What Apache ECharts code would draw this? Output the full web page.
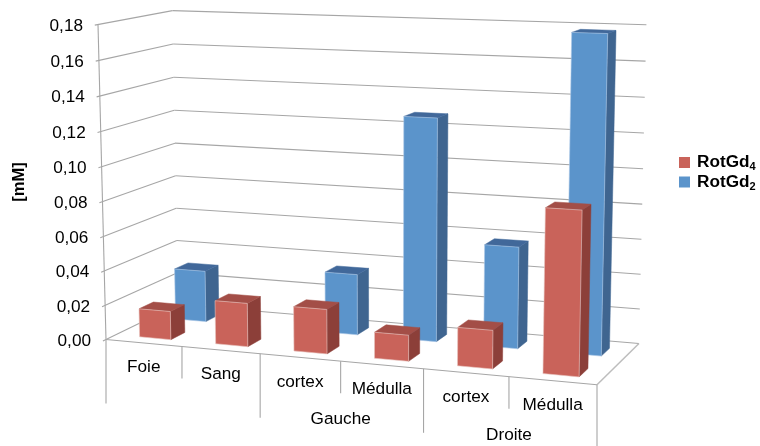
<!DOCTYPE html>
<html>
<head>
<meta charset="utf-8">
<style>html,body{margin:0;padding:0;background:#fff}#c{width:760px;height:446px}</style>
<script src="https://cdn.jsdelivr.net/npm/echarts@6/dist/echarts.min.js"></script>
</head>
<body>
<div id="c"></div>
<script>
const categories = ['Foie', 'Sang', 'cortex', 'Médulla', 'cortex', 'Médulla'];
const groupNames = ['', 'Gauche', 'Droite'];
const groupSpans = [2, 2, 2];
const rotGd4 = [0.0165, 0.025, 0.0253, 0.0147, 0.0214, 0.09];
const rotGd2 = [0.0304, 0.0, 0.0354, 0.128, 0.058, 0.178];
const tickValues = [0, 0.02, 0.04, 0.06, 0.08, 0.1, 0.12, 0.14, 0.16, 0.18];
const tickLabels = ['0,00', '0,02', '0,04', '0,06', '0,08', '0,10', '0,12', '0,14', '0,16', '0,18'];

// perspective box: u across, d into the depth, h up (all 0..1)
const O = [106, 339.5], VX = [-5200, -150], VZ = [1166, -175], VY = [384, 11290];
const A = -0.0847, B = 0.0729, G = -0.02796;
function project(u, d, h) {
  const w = 1 + A * u + B * d + G * h;
  return [
    (O[0] + A * u * VX[0] + B * d * VZ[0] + G * h * VY[0]) / w,
    (O[1] + A * u * VX[1] + B * d * VZ[1] + G * h * VY[1]) / w
  ];
}
function unit(api, params, cat, val) {
  const p = api.coord([cat, val]), cs = params.coordSys;
  return { u: (p[0] - cs.x) / cs.width, h: (cs.y + cs.height - p[1]) / cs.height };
}
const FONT = '"Liberation Sans", Arial, sans-serif';
const GRID = '#a6a6a6';
function line(a, b, stroke, width) {
  return { type: 'line', shape: { x1: a[0], y1: a[1], x2: b[0], y2: b[1] }, style: { stroke, lineWidth: width || 1.1 } };
}
function text(str, x, y, align, size) {
  return { type: 'text', x, y, style: { text: str, fill: '#000', font: (size || 17.2) + 'px ' + FONT, textAlign: align || 'center', textVerticalAlign: 'middle' } };
}

function renderGrid(params, api) {
  const t = unit(api, params, 0, api.value(0));
  return { type: 'group', children: [
    line(project(0, -0.04, t.h), project(0, 1, t.h), GRID),
    line(project(0, 1, t.h), project(1, 1, t.h), GRID)
  ] };
}
function renderFrame(params, api) {
  const top = unit(api, params, 0, tickValues[tickValues.length - 1]).h;
  const kids = [
    line(project(0, 0, 0), project(0, 0, top), GRID),
    line(project(0, 0, 0), project(1, 0, 0), GRID),
    line(project(1, 0, 0), project(1, 1, 0), '#bdbdbd', 1.5)
  ];
  // tick labels on the left wall
  tickValues.forEach(function (v, i) {
    const p = project(0, 0, unit(api, params, 0, v).h);
    kids.push(text(tickLabels[i], p[0] - 15, p[1] + 1.5, 'right'));
  });
  // category separators and labels along the front edge
  const n = categories.length;
  const edges = [0];
  let acc = 0;
  groupSpans.forEach(function (s) { acc += s; edges.push(acc); });
  for (let i = 0; i <= n; i++) {
    const p = project(i / n, 0, 0);
    const long = edges.indexOf(i) >= 0;
    kids.push(line(p, [p[0], Math.min(p[1] + (long ? 64 : 32), 446)], GRID));
  }
  categories.forEach(function (c, i) {
    const u = unit(api, params, i, 0).u;
    const p = project(u, 0, 0);
    kids.push(text(c, p[0], p[1] + 24.5));
  });
  groupNames.forEach(function (g, i) {
    if (!g) return;
    const p = project((edges[i] + edges[i + 1]) / 2 / n, 0, 0);
    kids.push(text(g, p[0], p[1] + 58.5));
  });
  return { type: 'group', children: kids };
}
function barRenderer(d0, d1, front, topFace, side, edge) {
  const shift = 0.004, hw = 0.0345;
  return function (params, api) {
    const val = api.value(1);
    if (!val) return null;
    const t = unit(api, params, api.value(0), val);
    const u0 = t.u + shift - hw, u1 = t.u + shift + hw, h = t.h;
    const face = function (pts, fill, stroke, lw) {
      return { type: 'polygon', shape: { points: pts }, style: { fill, stroke, lineWidth: lw } };
    };
    return { type: 'group', children: [
      face([project(u1, d0, 0), project(u1, d1, 0), project(u1, d1, h), project(u1, d0, h)], side, side, 0.5),
      face([project(u0, d0, h), project(u1, d0, h), project(u1, d1, h), project(u0, d1, h)], topFace, topFace, 0.5),
      face([project(u0, d0, 0), project(u1, d0, 0), project(u1, d0, h), project(u0, d0, h)], front, edge, 0.6)
    ] };
  };
}

const chart = echarts.init(document.getElementById('c'), null, { renderer: 'canvas' });
chart.setOption({
  animation: false,
  backgroundColor: '#fff',
  grid: { left: 106, top: 24.5, width: 491, height: 315 },
  xAxis: { type: 'category', data: categories, show: false },
  yAxis: {
    type: 'value', min: 0, max: 0.18, interval: 0.02,
    name: '[mM]', nameLocation: 'middle', nameGap: 78, nameRotate: 90,
    nameTextStyle: { fontFamily: FONT, fontSize: 16.5, fontWeight: 'bold', color: '#000' },
    axisLine: { show: false }, axisTick: { show: false }, axisLabel: { show: false }, splitLine: { show: false }
  },
  legend: {
    orient: 'vertical', left: 674, top: 149, itemWidth: 11, itemHeight: 11, itemGap: 1,
    icon: 'rect',
    data: ['RotGd4', 'RotGd2'],
    selectedMode: false,
    formatter: function (n) { return '{b|RotGd}{s|' + n.slice(5) + '}'; },
    textStyle: {
      padding: [0, 0, 0, 2],
      rich: {
        b: { fontFamily: FONT, fontSize: 17.2, fontWeight: 'bold', color: '#000', lineHeight: 20 },
        s: { fontFamily: FONT, fontSize: 11, fontWeight: 'bold', color: '#000', verticalAlign: 'bottom', lineHeight: 14 }
      }
    }
  },
  series: [
    { type: 'custom', name: 'grid', silent: true, renderItem: renderGrid, data: tickValues.map(function (v) { return [v]; }), encode: { y: 0 } },
    { type: 'custom', name: 'frame', silent: true, renderItem: renderFrame, data: [[0, 0]], encode: { x: 0, y: 1 } },
    { type: 'custom', name: 'RotGd2', silent: true, itemStyle: { color: '#5B94CB' },
      renderItem: barRenderer(0.63, 0.825, '#5B94CB', '#41689A', '#3F6590', '#A9C6E6'),
      data: rotGd2.map(function (v, i) { return [i, v]; }), encode: { x: 0, y: 1 } },
    { type: 'custom', name: 'RotGd4', silent: true, itemStyle: { color: '#C9635A' },
      renderItem: barRenderer(0.13, 0.325, '#C9635A', '#A34E47', '#8C3F39', '#E8C4C0'),
      data: rotGd4.map(function (v, i) { return [i, v]; }), encode: { x: 0, y: 1 } }
  ]
});
</script>
</body>
</html>
